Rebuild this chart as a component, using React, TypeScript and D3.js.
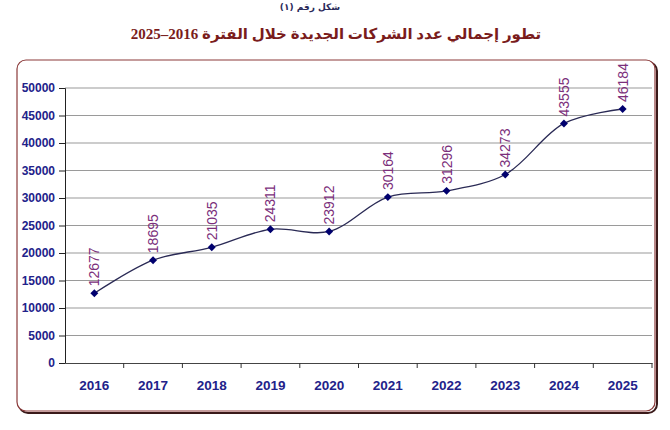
import React, { useRef, useEffect } from 'react';
import * as d3 from 'd3';

const years = ['2016', '2017', '2018', '2019', '2020', '2021', '2022', '2023', '2024', '2025'];
const companies = [12677, 18695, 21035, 24311, 23912, 30164, 31296, 34273, 43555, 46184];
const yTicks = [0, 5000, 10000, 15000, 20000, 25000, 30000, 35000, 40000, 45000, 50000];

const title = 'تطور إجمالي عدد الشركات الجديدة خلال الفترة 2016–2025';
const figureLabel = 'شكل رقم (١)';

const App: React.FC = () => {
  const svgRef = useRef<SVGSVGElement>(null);

  useEffect(() => {
    if (!svgRef.current) return;
    const width = 670;
    const height = 430;
    const plot = { left: 65, right: 652, top: 88, bottom: 363 };

    const svg = d3.select(svgRef.current);
    svg.selectAll('*').remove();

    svg.append('rect').attr('width', width).attr('height', height).attr('fill', '#fff');

    // figure caption at the very top
    svg.append('text')
      .attr('x', 310)
      .attr('y', 10)
      .attr('text-anchor', 'middle')
      .style('font-family', '"DejaVu Sans", sans-serif')
      .style('font-size', '9px')
      .style('font-weight', 'bold')
      .style('fill', '#2a2a5a')
      .text(figureLabel);

    svg.append('text')
      .attr('x', 336)
      .attr('y', 39)
      .attr('text-anchor', 'middle')
      .attr('direction', 'rtl')
      .style('font-family', '"Liberation Serif", "DejaVu Sans", serif')
      .style('font-size', '15px')
      .style('font-weight', 'bold')
      .style('fill', '#7a1c1c')
      .text(title);

    // frame with shadow
    svg.append('rect')
      .attr('x', 19).attr('y', 62)
      .attr('width', 638).attr('height', 351)
      .attr('rx', 9)
      .attr('fill', 'none')
      .attr('stroke', '#3a1a1a')
      .attr('stroke-width', 2);
    svg.append('rect')
      .attr('x', 17).attr('y', 60)
      .attr('width', 638).attr('height', 351)
      .attr('rx', 9)
      .attr('fill', '#fff')
      .attr('stroke', '#8b3a3a')
      .attr('stroke-width', 1.2);

    const x = d3.scaleBand<string>().domain(years).range([plot.left, plot.right]);
    const y = d3.scaleLinear().domain([0, 50000]).range([plot.bottom, plot.top]);

    // grid
    svg.append('g')
      .selectAll('line')
      .data(yTicks.filter(t => t > 0))
      .enter()
      .append('line')
      .attr('x1', plot.left).attr('x2', plot.right)
      .attr('y1', d => y(d)).attr('y2', d => y(d))
      .attr('stroke', '#9a9a9a')
      .attr('stroke-width', 1.2);

    // y axis
    const gy = svg.append('g').attr('transform', `translate(${plot.left},0)`)
      .call(d3.axisLeft(y).tickValues(yTicks).tickSize(6).tickPadding(4).tickFormat(d => String(d)));
    gy.select('.domain').attr('stroke', '#222');
    gy.selectAll('.tick line').attr('stroke', '#222');
    gy.selectAll('.tick text')
      .style('font-family', 'Arial, "Liberation Sans", sans-serif')
      .style('font-size', '12px')
      .style('font-weight', 'bold')
      .style('fill', '#22228a');

    // x axis
    const gx = svg.append('g').attr('transform', `translate(0,${plot.bottom})`)
      .call(d3.axisBottom(x).tickSize(0).tickPadding(17));
    gx.select('.domain').attr('stroke', '#444').attr('stroke-width', 1.2);
    gx.selectAll('.tick text')
      .style('font-family', 'Arial, "Liberation Sans", sans-serif')
      .style('font-size', '13.5px')
      .style('font-weight', 'bold')
      .style('fill', '#22228a');
    gx.append('g')
      .selectAll('line')
      .data(years.slice(1).concat(['end']))
      .enter()
      .append('line')
      .attr('x1', d => (d === 'end' ? plot.right : (x(d) as number)))
      .attr('x2', d => (d === 'end' ? plot.right : (x(d) as number)))
      .attr('y1', 0).attr('y2', 5)
      .attr('stroke', '#333');

    const cx = (d: string) => (x(d) as number) + x.bandwidth() / 2;

    const line = d3.line<number>()
      .x((_, i) => cx(years[i]))
      .y(d => y(d))
      .curve(d3.curveCatmullRom.alpha(0.5));

    svg.append('path')
      .datum(companies)
      .attr('d', line)
      .attr('fill', 'none')
      .attr('stroke', '#2a2a55')
      .attr('stroke-width', 1.3);

    svg.append('g')
      .selectAll('path')
      .data(companies)
      .enter()
      .append('path')
      .attr('d', d3.symbol().type(d3.symbolDiamond2).size(40))
      .attr('transform', (d, i) => `translate(${cx(years[i])},${y(d)})`)
      .attr('fill', '#00006e');

    svg.append('g')
      .selectAll('text')
      .data(companies)
      .enter()
      .append('text')
      .attr('transform', (d, i) => `translate(${cx(years[i]) + 5},${y(d) - 7}) rotate(-90)`)
      .style('font-family', 'Arial, "Liberation Sans", sans-serif')
      .style('font-size', '14px')
      .style('fill', '#7b2f7b')
      .text(d => String(d));
  }, []);

  return (
    <svg
      ref={svgRef}
      width={670}
      height={430}
      style={{ position: 'absolute', left: 0, top: 0, display: 'block' }}
    />
  );
};

export default App;
